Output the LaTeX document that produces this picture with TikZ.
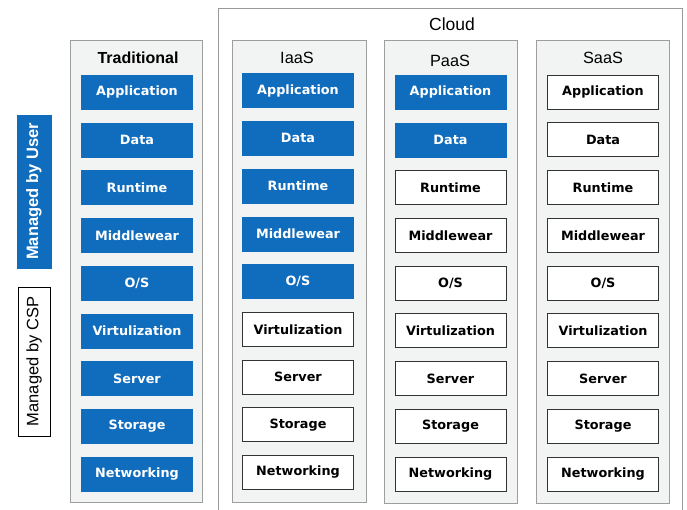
\documentclass[tikz,border=0pt]{standalone}
\usepackage{fontspec}
\setmainfont{Liberation Sans}
\newfontfamily\boxfont{DejaVu Sans}
\definecolor{cblue}{RGB}{16,108,189}
\definecolor{panelfill}{RGB}{242,243,243}
\newcommand{\mylayer}[5]{\node[#1] (#2) at (#3,#4) {#5};}
\begin{document}
\begin{tikzpicture}[x=1pt,y=-1pt,
  panel/.style={draw=black!38, fill=panelfill, line width=0.8pt, anchor=north west, inner sep=0pt},
  layer/.style={minimum width=111pt, minimum height=34pt, inner sep=0pt,
    font=\boxfont\bfseries\fontsize{12.8}{14}\selectfont},
  userbox/.style={layer, fill=cblue, draw=cblue, text=white},
  cspbox/.style={layer, fill=white, draw=black!80, line width=0.8pt, text=black},
  title/.style={font=\fontsize{16.3}{18}\selectfont, text=black}]
\useasboundingbox (0,0) rectangle (687,510);
\fill[white] (0,0) rectangle (687,510);
% cloud frame
\node[draw=black!40, line width=0.8pt, fill=white, anchor=north west, minimum width=464pt, minimum height=520pt, inner sep=0pt] (cloud) at (218,8) {};
\node[font=\fontsize{17.5}{19}\selectfont, text=black] (cloudt) at (452,24) {Cloud};
% panels
\node[panel, minimum width=132pt, minimum height=462pt] (ptrad) at (70,40) {};
\node[panel, minimum width=134pt, minimum height=462pt] (piaas) at (232,40) {};
\node[panel, minimum width=133pt, minimum height=463pt] (ppaas) at (384,40) {};
\node[panel, minimum width=133pt, minimum height=463pt] (psaas) at (536,40) {};
% titles
\node[title, font=\bfseries\fontsize{16}{18}\selectfont] (ttrad) at (138,58) {Traditional};
\node[title] (tiaas) at (297,58) {IaaS};
\node[title] (tpaas) at (450,61) {PaaS};
\node[title] (tsaas) at (603,58) {SaaS};
% layers
\foreach \lab [count=\i] in {Application,Data,Runtime,Middlewear,O/S,Virtulization,Server,Storage,Networking}{
  \pgfmathsetmacro{\yy}{92+(\i-1)*47.75}
  \pgfmathsetmacro{\yi}{\yy-1.5}
  \mylayer{userbox}{trad\i}{137}{\yy}{\lab}
  \ifnum\i<6 \mylayer{userbox}{iaas\i}{298}{\yi}{\lab}\else\mylayer{cspbox}{iaas\i}{298}{\yi}{\lab}\fi
  \ifnum\i<3 \mylayer{userbox}{paas\i}{450.5}{\yy}{\lab}\else\mylayer{cspbox}{paas\i}{450.5}{\yy}{\lab}\fi
  \mylayer{cspbox}{saas\i}{603}{\yy}{\lab}
}
% legend
\node[fill=cblue, draw=cblue, rotate=90, minimum width=153pt, minimum height=34pt, inner sep=0pt, text=white, font=\bfseries\fontsize{16.5}{18}\selectfont] (user) at (34,191.5) {Managed by User};
\node[fill=white, draw=black, line width=0.8pt, rotate=90, minimum width=149pt, minimum height=32pt, inner sep=0pt, text=black, font=\fontsize{16.5}{18}\selectfont] (csp) at (34,361.5) {Managed by CSP};
\end{tikzpicture}
\end{document}
